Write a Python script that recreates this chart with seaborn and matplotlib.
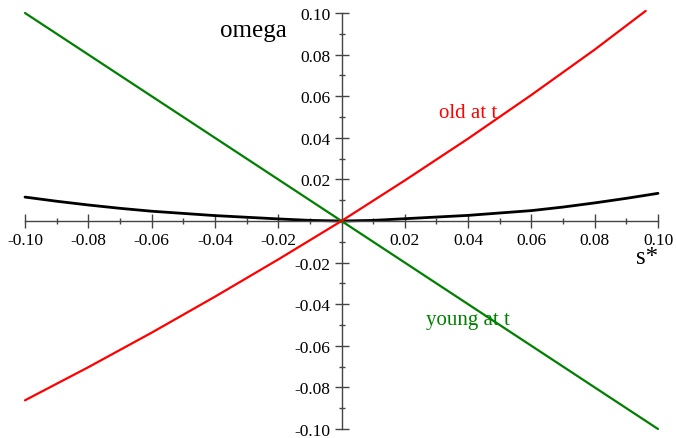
import numpy as np
import pandas as pd
import matplotlib
matplotlib.use("Agg")
import matplotlib.pyplot as plt
from matplotlib.ticker import MultipleLocator, FixedLocator, FixedFormatter
import seaborn as sns

# ── Values ───────────────────────────────────────────────────────────────────
s_old = [-0.10, -0.08, -0.06, -0.04, -0.02, 0.0, 0.02, 0.04, 0.06, 0.08, 0.0961]
w_old = [-0.0862, -0.0703, -0.0537, -0.0364, -0.0185, 0.0,
         0.0195, 0.0396, 0.0606, 0.0824, 0.1010]

s_young = [-0.10, 0.10]
w_young = [0.10, -0.10]

s_mid = [-0.10, -0.09, -0.08, -0.07, -0.06, -0.04, -0.02, -0.01, 0.0,
         0.01, 0.02, 0.04, 0.06, 0.07, 0.08, 0.09, 0.10]
w_mid = [0.0115, 0.0095, 0.0077, 0.0061, 0.0047, 0.0026, 0.0010, 0.0003, 0.0,
         0.0003, 0.0011, 0.0027, 0.0050, 0.0067, 0.0087, 0.0109, 0.0133]

tick_vals = [-0.10, -0.08, -0.06, -0.04, -0.02, 0.02, 0.04, 0.06, 0.08, 0.10]
tick_text = ["-0.10", "-0.08", "-0.06", "-0.04", "-0.02", "0.02", "0.04", "0.06", "0.08", "0.10"]

# ── Style ───────────────────────────────────────────────────────────────────
sns.set_style("white")
plt.rcParams["font.family"] = ["Liberation Serif", "DejaVu Serif"]
plt.rcParams["axes.unicode_minus"] = False
plt.rcParams["text.color"] = "black"

AXIS_COL = "#444444"

fig = plt.figure(figsize=(6.76, 4.39), dpi=100)
ax = fig.add_axes([25 / 676, 1 - 430 / 439, 633 / 676, 416 / 439])

df_old = pd.DataFrame({"s": s_old, "w": w_old})
df_young = pd.DataFrame({"s": s_young, "w": w_young})
df_mid = pd.DataFrame({"s": s_mid, "w": w_mid})

sns.lineplot(data=df_young, x="s", y="w", ax=ax, color="#008000", lw=1.6,
             sort=False, clip_on=False, zorder=3)
sns.lineplot(data=df_old, x="s", y="w", ax=ax, color="#ff0000", lw=1.6,
             sort=False, clip_on=False, zorder=4)
sns.lineplot(data=df_mid, x="s", y="w", ax=ax, color="black", lw=2.0,
             sort=False, clip_on=False, zorder=2)

ax.set_xlim(-0.10, 0.10)
ax.set_ylim(-0.10, 0.10)

# axes crossing at the origin
for side in ("top", "right"):
    ax.spines[side].set_visible(False)
for side in ("left", "bottom"):
    ax.spines[side].set_position(("data", 0))
    ax.spines[side].set_color(AXIS_COL)
    ax.spines[side].set_linewidth(1.0)

for axis in (ax.xaxis, ax.yaxis):
    axis.set_major_locator(FixedLocator(tick_vals))
    axis.set_major_formatter(FixedFormatter(tick_text))
    axis.set_minor_locator(MultipleLocator(0.01))

ax.tick_params(which="both", bottom=True, left=True, top=False, right=False)
ax.tick_params(which="major", direction="inout", length=10, width=1.0,
               color=AXIS_COL, labelsize=12.5, pad=3.0, labelcolor="black")
ax.tick_params(which="minor", direction="inout", length=4.5, width=1.0,
               color=AXIS_COL)
ax.set_xlabel("")
ax.set_ylabel("")

# ── Annotations ─────────────────────────────────────────────────────────────
ax.text(-0.0277, 0.0891, "omega", fontsize=18, color="black",
        ha="center", va="baseline")
ax.text(0.0965, -0.0202, "s*", fontsize=18, color="black",
        ha="center", va="baseline")
ax.text(0.0399, 0.0499, "old at t", fontsize=15, color="#ff0000",
        ha="center", va="baseline")
ax.text(0.0401, -0.0495, "young at t", fontsize=15, color="#008000",
        ha="center", va="baseline")

fig.savefig("out.png", dpi=100)
